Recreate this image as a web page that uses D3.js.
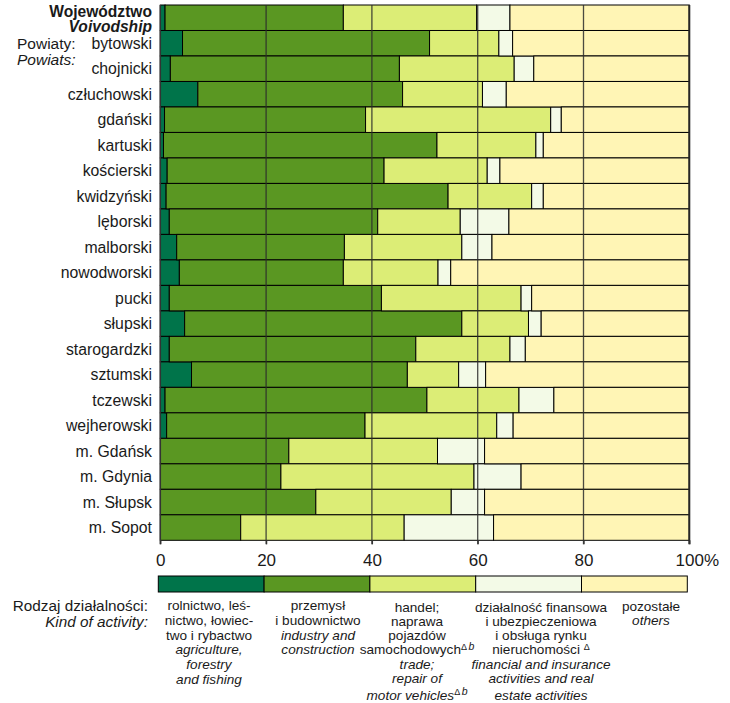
<!DOCTYPE html>
<html><head><meta charset="utf-8">
<script src="https://cdn.jsdelivr.net/npm/d3@7"></script>
<style>
body{margin:0;background:#fff;}
svg text{font-family:"Liberation Sans",Arial,sans-serif;fill:#1a1a1a;}
</style></head><body>
<svg id="c" width="730" height="703"></svg>
<script>
// ---- data ----
const rowLabels = ["Województwo","bytowski","chojnicki","człuchowski","gdański","kartuski","kościerski",
  "kwidzyński","lęborski","malborski","nowodworski","pucki","słupski","starogardzki","sztumski",
  "tczewski","wejherowski","m. Gdańsk","m. Gdynia","m. Słupsk","m. Sopot"];
const headerLabels = ["Województwo","Voivodship"];
const groupLabels = ["Powiaty:","Powiats:"];
const agriculture = [0.9,4.2,1.9,7.1,0.8,0.6,1.3,1.1,1.7,3.1,3.6,1.7,4.6,1.7,5.9,0.9,1.2,0,0,0,0];
const industry    = [33.7,46.7,43.3,38.7,38.0,51.7,41.0,53.3,39.4,31.7,31.0,40.1,52.4,46.6,40.8,49.5,37.5,24.3,22.8,29.4,15.2];
const trade       = [25.2,13.1,21.7,15.1,35.0,18.7,19.5,15.8,15.6,22.2,17.9,26.4,12.6,17.8,9.7,17.4,24.9,28.1,36.5,25.6,30.9];
const finance     = [6.3,2.6,3.7,4.5,2.0,1.4,2.4,2.2,9.2,5.7,2.4,2.0,2.4,2.9,5.1,6.6,3.1,8.9,8.9,6.3,16.9];
const others      = [33.9,33.4,29.4,34.6,24.2,27.6,35.8,27.6,34.1,37.3,45.1,29.8,28.0,31.0,38.5,25.6,33.3,38.7,31.8,38.7,37.0];
const seriesKeys = ["agriculture","industry","trade","finance","others"];
const seriesColors = ["#00744a","#5a9722","#dced76","#f3fae7","#fff5b5"];
const tickValues = [0,20,40,60,80,100];
const tickLabels = ["0","20","40","60","80","100%"];
const legendTitle = ["Rodzaj działalności:","Kind of activity:"];
const legendTexts = [
  [{t:"rolnictwo, leś-"},{t:"nictwo, łowiec-"},{t:"two i rybactwo"},{t:"agriculture,",it:1},{t:"forestry",it:1},{t:"and fishing",it:1}],
  [{t:"przemysł"},{t:"i budownictwo"},{t:"industry and",it:1},{t:"construction",it:1}],
  [{t:"handel;"},{t:"naprawa"},{t:"pojazdów"},{t:"samochodowych",sup:["Δ","b"]},{t:"trade;",it:1},{t:"repair of",it:1},{t:"motor vehicles",it:1,sup:["Δ","b"]}],
  [{t:"działalność finansowa"},{t:"i ubezpieczeniowa"},{t:"i obsługa rynku"},{t:"nieruchomości ",sup:["Δ",""]},{t:"financial and insurance",it:1},{t:"activities and real",it:1},{t:"estate activities",it:1}],
  [{t:"pozostałe"},{t:"others",it:1}]
];

// ---- chart ----
const table = rowLabels.map((r,i)=>({row:r,agriculture:agriculture[i],industry:industry[i],trade:trade[i],finance:finance[i],others:others[i]}));
const svg = d3.select("#c");
const x = d3.scaleLinear().domain([0,100]).range([160.3,689.3]);
const y = d3.scaleBand().domain(rowLabels).range([5,540.3]).padding(0);
const color = d3.scaleOrdinal().domain(seriesKeys).range(seriesColors);
const stacked = d3.stack().keys(seriesKeys)(table);

svg.append("g").selectAll("g").data(stacked).join("g").attr("fill",d=>color(d.key))
  .selectAll("rect").data(d=>d).join("rect")
  .attr("x",d=>x(d[0])).attr("y",d=>y(d.data.row))
  .attr("width",d=>x(d[1])-x(d[0])).attr("height",y.bandwidth())
  .attr("stroke","#000").attr("stroke-width",1);

// grid lines over bars
svg.append("g").selectAll("line").data(tickValues.slice(1,-1)).join("line")
  .attr("x1",d=>x(d)).attr("x2",d=>x(d)).attr("y1",5).attr("y2",544.3)
  .attr("stroke","#2b2b2b").attr("stroke-opacity",0.85).attr("stroke-width",1.3);
svg.append("line").attr("x1",x(0)).attr("x2",x(0)).attr("y1",5).attr("y2",544.3).attr("stroke","#333").attr("stroke-width",1.5);
svg.append("line").attr("x1",x(100)).attr("x2",x(100)).attr("y1",5).attr("y2",544.3).attr("stroke","#262626").attr("stroke-width",2);

// axis
const axis = d3.axisBottom(x).tickValues(tickValues).tickSize(4).tickPadding(10)
  .tickFormat((d,i)=>tickLabels[i]);
const gA = svg.append("g").attr("transform","translate(0,540.3)").call(axis)
  .attr("font-size",17).attr("font-family","Liberation Sans, Arial, sans-serif");
gA.select(".domain").remove();
gA.selectAll(".tick line").attr("stroke","#333").attr("stroke-width",1.3);
gA.selectAll(".tick text").each(function(d,i){
  const lab = tickLabels[i];
  const m = lab.match(/^(\d+)(%?)$/);
  if (m && m[2]) {
    const t = d3.select(this);
    t.text(m[1]);
    const w = this.getComputedTextLength();
    t.text(null).attr("text-anchor","start").attr("x",-w/2);
    t.append("tspan").text(m[1]);
    t.append("tspan").text(m[2]);
  }
});

// row labels
const gL = svg.append("g");
rowLabels.forEach((r,i)=>{
  if (i===0) return;
  gL.append("text").attr("x",152).attr("y",y(r)+y.bandwidth()/2).attr("dy","0.36em")
    .attr("text-anchor","end").attr("font-size",15.8).text(r);
});
gL.append("text").attr("x",152).attr("y",17).attr("text-anchor","end").attr("font-size",15.6)
  .attr("font-weight","bold").text(headerLabels[0]);
gL.append("text").attr("x",152).attr("y",31.5).attr("text-anchor","end").attr("font-size",15.6)
  .attr("font-weight","bold").attr("font-style","italic").text(headerLabels[1]);
gL.append("text").attr("x",17).attr("y",y(rowLabels[1])+y.bandwidth()/2).attr("dy","0.36em")
  .attr("font-size",15.5).text(groupLabels[0]);
gL.append("text").attr("x",17).attr("y",64.5).attr("font-size",15.5).attr("font-style","italic").text(groupLabels[1]);

// legend
const gLeg = svg.append("g");
gLeg.selectAll("rect").data(seriesKeys).join("rect")
  .attr("x",(d,i)=>x(i*20)-2).attr("y",576).attr("width",x(20)-x(0)).attr("height",16)
  .attr("fill",d=>color(d)).attr("stroke","#000").attr("stroke-width",1);
gLeg.append("text").attr("x",148).attr("y",611).attr("text-anchor","end").attr("font-size",15.3).text(legendTitle[0]);
gLeg.append("text").attr("x",148).attr("y",627).attr("text-anchor","end").attr("font-size",15.3).attr("font-style","italic").text(legendTitle[1]);
const colCenters = [209, 318, 417, 541, 651];
const colStep = [14.8, 14.8, 14.3, 14.3, 14.8];
const colStart = [610, 610, 611.5, 611.5, 610.5];
legendTexts.forEach((col,ci)=>{
  col.forEach((ln,li)=>{
    let yy = colStart[ci] + li*colStep[ci];
    if ((ci===2||ci===3) && li===col.length-1) yy += 2.5;
    const t = gLeg.append("text").attr("x",colCenters[ci]).attr("y",yy).attr("text-anchor","middle")
      .attr("font-size",13.6).attr("font-style",ln.it?"italic":"normal");
    t.append("tspan").text(ln.t);
    if (ln.sup) {
      t.append("tspan").attr("dy",-4.5).attr("font-size",9).attr("font-style","normal").text(ln.sup[0]);
      if (ln.sup[1]) t.append("tspan").attr("dx",1.5).attr("font-size",10.5).attr("font-style","italic").text(ln.sup[1]);
    }
  });
});
</script>
</body></html>
